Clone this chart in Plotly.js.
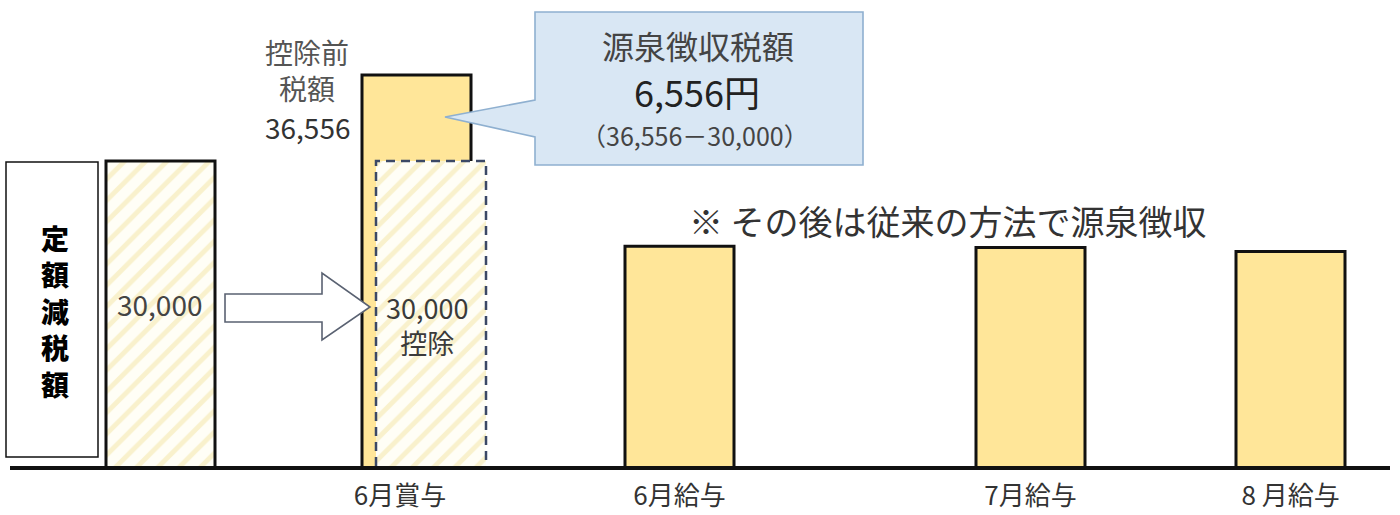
<!DOCTYPE html>
<html>
<head>
<meta charset="utf-8">
<script src="https://cdn.plot.ly/plotly-3.0.1.min.js"></script>
<style>
html,body{margin:0;padding:0;background:#fff;}
#chart{width:1400px;height:515px;}
</style>
</head>
<body>
<div id="chart"></div>
<script>
// ---------- data ----------
const flatDeduction = 30000;            // 定額減税額
const preTaxBonus = 36556;              // 控除前税額 (6月賞与)
const laterLabels = ["6月給与", "7月給与", "8 月給与"];
const laterValues = [23500, 23400, 23100];   // estimated heights (not labelled)
const bonusLabel = "6月賞与";
const sideTitle = "定額減税額";
const calloutTitle = "源泉徴収税額";
const noteText = "※ その後は従来の方法で源泉徴収";

// ---------- layout constants (positions in axis units) ----------
const X_MIN = 0, X_MAX = 13.8;
const Y_MIN = 6749, Y_MAX = 42273;
const posFlat = 1.505, posBonus = 4.065, posDeduct = 4.21;
const posLater = [6.695, 10.205, 12.805];
const tickPosBonus = 3.9;
const barW = 1.09, dashW = 1.10;

const fmt = v => v.toLocaleString('en-US');
const withheld = preTaxBonus - flatDeduction;

const FONT = '"Noto Sans CJK JP", "Noto Sans", sans-serif';
const YEL = '#FFE699';
const HATCH = {shape:'/', bgcolor:'#fffef6', fgcolor:'#f9f1cc', size:15, solidity:0.32};

// pixel -> paper helpers (plot area: x 10..1390, y 0..466)
const PL = 10, PW = 1380, PH = 466;
const px = x => (x - PL) / PW;
const py = y => (PH - y) / PH;

const traces = [
  { // 定額減税額 bar
    type:'bar', x:[posFlat], y:[flatDeduction], width:[barW],
    marker:{color:'#fffef6', pattern:HATCH, line:{color:'#111', width:3}},
    hoverinfo:'skip', showlegend:false
  },
  { // 6月賞与 pre-tax bar
    type:'bar', x:[posBonus], y:[preTaxBonus], width:[barW],
    marker:{color:YEL, line:{color:'#111', width:3}},
    hoverinfo:'skip', showlegend:false
  },
  { // deduction overlay (hatched)
    type:'bar', x:[posDeduct], y:[flatDeduction], width:[dashW],
    marker:{color:'#fffef6', pattern:HATCH, line:{width:0}},
    hoverinfo:'skip', showlegend:false
  },
  { // dashed outline of deduction overlay
    type:'scatter', mode:'lines',
    x:[posDeduct-dashW/2, posDeduct-dashW/2, posDeduct+dashW/2, posDeduct+dashW/2],
    y:[Y_MIN, flatDeduction, flatDeduction, Y_MIN],
    line:{color:'#3b4866', width:2.5, dash:'9px,6px'},
    hoverinfo:'skip', showlegend:false
  },
  { // later months
    type:'bar', x:posLater, y:laterValues, width:posLater.map(()=>barW),
    marker:{color:YEL, line:{color:'#111', width:3}},
    hoverinfo:'skip', showlegend:false
  }
];

// arrow & callout paths in pixel coords -> paper
function pathFrom(pts){
  return 'M ' + pts.map(p => px(p[0]).toFixed(5) + ',' + py(p[1]).toFixed(5)).join(' L ') + ' Z';
}
const arrowPts = [[225,294],[322,294],[322,273],[370,307],[322,340],[322,322],[225,322]];
const calloutPts = [[535,12],[863,12],[863,165],[535,165],[535,137],[445,117],[535,100]];

const shapes = [
  {type:'rect', xref:'paper', yref:'paper', x0:px(6), x1:px(98), y0:py(457), y1:py(162),
   line:{color:'#111', width:1.5}, fillcolor:'#fff', layer:'above'},
  {type:'path', xref:'paper', yref:'paper', path:pathFrom(arrowPts),
   line:{color:'#5a6272', width:1.6}, fillcolor:'#fff', layer:'above'},
  {type:'path', xref:'paper', yref:'paper', path:pathFrom(calloutPts),
   line:{color:'#8fb0d0', width:1.6}, fillcolor:'#d9e7f4', layer:'above'}
];

function ann(text, x, y, size, color, extra){
  return Object.assign({text:text, xref:'paper', yref:'paper', x:px(x), y:py(y),
    xanchor:'center', yanchor:'middle', showarrow:false,
    font:{family:FONT, size:size, color:color}}, extra||{});
}

const annotations = [
  ann(sideTitle.split('').join('<br>'), 55, 311, 28, '#000',
      {font:{family:FONT, size:28, color:'#000', weight:900}}),
  ann(fmt(flatDeduction), 159, 304, 28, '#444'),
  ann('控除前<br>税額', 307, 70, 28, '#555'),
  ann(fmt(preTaxBonus), 307, 127, 28, '#333'),
  ann(fmt(flatDeduction) + '<br>控除', 427, 325, 27, '#3a3a3a'),
  ann(calloutTitle, 698, 45, 32, '#444'),
  ann(fmt(withheld) + '円', 697, 91, 36, '#222'),
  ann('（' + fmt(preTaxBonus) + '－' + fmt(flatDeduction) + '）', 695, 135, 25, '#444'),
  ann(noteText, 948, 220, 34, '#333')
];

const layout = {
  width:1400, height:515,
  margin:{l:PL, r:10, t:0, b:515-PH, pad:0},
  paper_bgcolor:'#fff', plot_bgcolor:'#fff',
  barmode:'overlay', bargap:0,
  hovermode:false, showlegend:false,
  font:{family:FONT},
  xaxis:{range:[X_MIN, X_MAX], showgrid:false, zeroline:false,
    showline:true, linecolor:'#111', linewidth:4,
    tickmode:'array', tickvals:[tickPosBonus].concat(posLater),
    ticktext:[bonusLabel].concat(laterLabels), ticks:'', ticklabelstandoff:4,
    tickfont:{family:FONT, size:26, color:'#333'}, fixedrange:true},
  yaxis:{range:[Y_MIN, Y_MAX], visible:false, fixedrange:true},
  shapes:shapes, annotations:annotations
};

Plotly.newPlot('chart', traces, layout, {staticPlot:true, displayModeBar:false});
</script>
</body>
</html>
